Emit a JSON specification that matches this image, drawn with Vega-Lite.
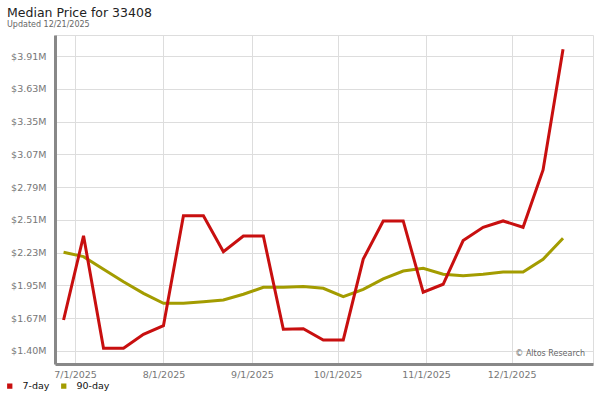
{
  "$schema": "https://vega.github.io/schema/vega-lite/v6.json",
  "width": 538,
  "height": 329,
  "autosize": "none",
  "padding": {"left": 55, "top": 35, "right": 7, "bottom": 36},
  "background": "white",
  "title": {
    "text": "Median Price for 33408",
    "subtitle": "Updated 12/21/2025",
    "anchor": "start",
    "frame": "group",
    "dx": -48,
    "offset": 6,
    "font": "DejaVu Sans",
    "fontSize": 12.5,
    "fontWeight": "normal",
    "color": "#222222",
    "subtitleFont": "DejaVu Sans",
    "subtitleFontSize": 8,
    "subtitleColor": "#666666",
    "subtitlePadding": 2
  },
  "config": {
    "view": {"stroke": "#dddddd"},
    "font": "DejaVu Sans"
  },
  "data": {
    "values": [
      {"date": "2025-06-27T00:00:00", "series": "7-day", "price": 1664000},
      {"date": "2025-07-04T00:00:00", "series": "7-day", "price": 2381000},
      {"date": "2025-07-11T00:00:00", "series": "7-day", "price": 1423000},
      {"date": "2025-07-18T00:00:00", "series": "7-day", "price": 1423000},
      {"date": "2025-07-25T00:00:00", "series": "7-day", "price": 1542000},
      {"date": "2025-08-01T00:00:00", "series": "7-day", "price": 1615000},
      {"date": "2025-08-08T00:00:00", "series": "7-day", "price": 2552000},
      {"date": "2025-08-15T00:00:00", "series": "7-day", "price": 2552000},
      {"date": "2025-08-22T00:00:00", "series": "7-day", "price": 2245000},
      {"date": "2025-08-29T00:00:00", "series": "7-day", "price": 2379000},
      {"date": "2025-09-05T00:00:00", "series": "7-day", "price": 2379000},
      {"date": "2025-09-12T00:00:00", "series": "7-day", "price": 1585000},
      {"date": "2025-09-19T00:00:00", "series": "7-day", "price": 1590000},
      {"date": "2025-09-26T00:00:00", "series": "7-day", "price": 1494000},
      {"date": "2025-10-03T00:00:00", "series": "7-day", "price": 1494000},
      {"date": "2025-10-10T00:00:00", "series": "7-day", "price": 2182000},
      {"date": "2025-10-17T00:00:00", "series": "7-day", "price": 2507000},
      {"date": "2025-10-24T00:00:00", "series": "7-day", "price": 2507000},
      {"date": "2025-10-31T00:00:00", "series": "7-day", "price": 1900000},
      {"date": "2025-11-07T00:00:00", "series": "7-day", "price": 1968000},
      {"date": "2025-11-14T00:00:00", "series": "7-day", "price": 2340000},
      {"date": "2025-11-21T00:00:00", "series": "7-day", "price": 2453000},
      {"date": "2025-11-28T00:00:00", "series": "7-day", "price": 2507000},
      {"date": "2025-12-05T00:00:00", "series": "7-day", "price": 2453000},
      {"date": "2025-12-12T00:00:00", "series": "7-day", "price": 2941000},
      {"date": "2025-12-19T00:00:00", "series": "7-day", "price": 3968000},
      {"date": "2025-06-27T00:00:00", "series": "90-day", "price": 2240000},
      {"date": "2025-07-04T00:00:00", "series": "90-day", "price": 2203000},
      {"date": "2025-07-11T00:00:00", "series": "90-day", "price": 2095000},
      {"date": "2025-07-18T00:00:00", "series": "90-day", "price": 1990000},
      {"date": "2025-07-25T00:00:00", "series": "90-day", "price": 1891000},
      {"date": "2025-08-01T00:00:00", "series": "90-day", "price": 1806000},
      {"date": "2025-08-08T00:00:00", "series": "90-day", "price": 1806000},
      {"date": "2025-08-15T00:00:00", "series": "90-day", "price": 1820000},
      {"date": "2025-08-22T00:00:00", "series": "90-day", "price": 1834000},
      {"date": "2025-08-29T00:00:00", "series": "90-day", "price": 1883000},
      {"date": "2025-09-05T00:00:00", "series": "90-day", "price": 1942000},
      {"date": "2025-09-12T00:00:00", "series": "90-day", "price": 1942000},
      {"date": "2025-09-19T00:00:00", "series": "90-day", "price": 1949000},
      {"date": "2025-09-26T00:00:00", "series": "90-day", "price": 1934000},
      {"date": "2025-10-03T00:00:00", "series": "90-day", "price": 1862000},
      {"date": "2025-10-10T00:00:00", "series": "90-day", "price": 1925000},
      {"date": "2025-10-17T00:00:00", "series": "90-day", "price": 2013000},
      {"date": "2025-10-24T00:00:00", "series": "90-day", "price": 2081000},
      {"date": "2025-10-31T00:00:00", "series": "90-day", "price": 2104000},
      {"date": "2025-11-07T00:00:00", "series": "90-day", "price": 2053000},
      {"date": "2025-11-14T00:00:00", "series": "90-day", "price": 2041000},
      {"date": "2025-11-21T00:00:00", "series": "90-day", "price": 2053000},
      {"date": "2025-11-28T00:00:00", "series": "90-day", "price": 2072000},
      {"date": "2025-12-05T00:00:00", "series": "90-day", "price": 2072000},
      {"date": "2025-12-12T00:00:00", "series": "90-day", "price": 2181000},
      {"date": "2025-12-19T00:00:00", "series": "90-day", "price": 2359000}
    ]
  },
  "encoding": {
    "x": {
      "field": "date",
      "type": "temporal",
      "title": null,
      "scale": {
        "domain": [
          {"year": 2025, "month": 6, "date": 24},
          {"year": 2025, "month": 12, "date": 29, "hours": 12}
        ],
        "nice": false
      },
      "axis": {
        "values": [
          {"year": 2025, "month": 7, "date": 1},
          {"year": 2025, "month": 8, "date": 1},
          {"year": 2025, "month": 9, "date": 1},
          {"year": 2025, "month": 10, "date": 1},
          {"year": 2025, "month": 11, "date": 1},
          {"year": 2025, "month": 12, "date": 1}
        ],
        "format": "%-m/%-d/%Y",
        "grid": true,
        "gridColor": "#dddddd",
        "gridWidth": 1,
        "ticks": false,
        "domainColor": "#888888",
        "domainWidth": 3,
        "labelColor": "#777777",
        "labelFontSize": 9.5,
        "labelPadding": 5,
        "labelFont": "DejaVu Sans"
      }
    },
    "y": {
      "field": "price",
      "type": "quantitative",
      "title": null,
      "scale": {"domain": [1289300, 4089800], "nice": false, "zero": false},
      "axis": {
        "values": [1400000, 1679000, 1958000, 2237000, 2516000, 2795000, 3074000, 3353000, 3632000, 3911000],
        "labelExpr": "'$' + format(floor(datum.value / 10000) / 100, '.2f') + 'M'",
        "grid": true,
        "gridColor": "#dddddd",
        "gridWidth": 1,
        "ticks": false,
        "domainColor": "#888888",
        "domainWidth": 3,
        "labelColor": "#777777",
        "labelFontSize": 9.5,
        "labelPadding": 9,
        "labelFont": "DejaVu Sans"
      }
    },
    "color": {
      "field": "series",
      "type": "nominal",
      "scale": {"domain": ["7-day", "90-day"], "range": ["#c80f0f", "#a39c00"]},
      "legend": {
        "title": null,
        "orient": "none",
        "direction": "horizontal",
        "legendX": -50,
        "legendY": 346,
        "symbolType": "square",
        "symbolSize": 28,
        "labelFontSize": 9.5,
        "labelColor": "#111111",
        "labelFont": "DejaVu Sans",
        "labelOffset": 8,
        "columnPadding": 9,
        "encode": {
          "symbols": {
            "update": {
              "fill": {"scale": "color", "field": "value"},
              "stroke": {"value": "transparent"},
              "strokeWidth": {"value": 0}
            }
          }
        }
      }
    }
  },
  "layer": [
    {
      "transform": [{"filter": "datum.series === '90-day'"}],
      "mark": {"type": "line", "strokeWidth": 3}
    },
    {
      "transform": [{"filter": "datum.series === '7-day'"}],
      "mark": {"type": "line", "strokeWidth": 3}
    },
    {
      "transform": [
        {"window": [{"op": "row_number", "as": "rn"}]},
        {"filter": "datum.rn === 1"}
      ],
      "mark": {"type": "text", "align": "right", "baseline": "middle", "fontSize": 8, "font": "DejaVu Sans"},
      "encoding": {
        "x": {"datum": {"year": 2025, "month": 12, "date": 26, "hours": 17}, "type": "temporal"},
        "y": {"datum": 1374500, "type": "quantitative"},
        "text": {"value": "© Altos Research"},
        "color": {"value": "#666666"}
      }
    }
  ]
}
